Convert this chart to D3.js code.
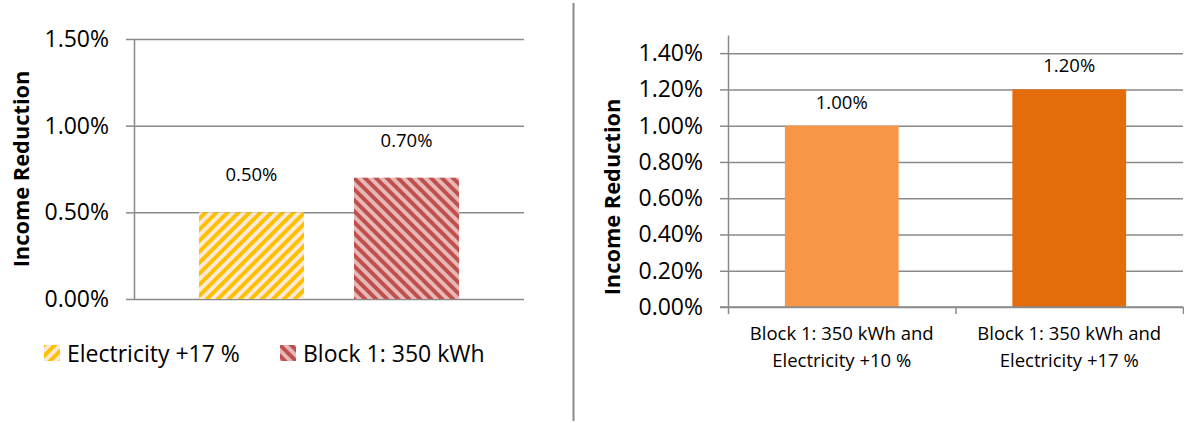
<!DOCTYPE html>
<html>
<head>
<meta charset="utf-8">
<script src="https://cdn.jsdelivr.net/npm/d3@7"></script>
<style>
  body { margin: 0; background: #fff; }
  text { font-family: "Open Sans", sans-serif; fill: #000; }
</style>
</head>
<body>
<svg id="chart" width="1184" height="423"></svg>
<script>
// left chart data (one category, two series)
var leftSeries = ["Electricity +17 %", "Block 1: 350 kWh"];
var leftValues = [0.005, 0.007];
var leftTicks = [0, 0.005, 0.01, 0.015];

// right chart data
var rightCategories = [["Block 1: 350 kWh and", "Electricity +10 %"], ["Block 1: 350 kWh and", "Electricity +17 %"]];
var rightValues = [0.010, 0.012];
var rightTicks = [0, 0.002, 0.004, 0.006, 0.008, 0.010, 0.012, 0.014];

var axisTitle = "Income Reduction";
var gridColor = "#8a8a8a";
var fmt = d3.format(".2%");

var svg = d3.select("#chart");

// hatch patterns
var defs = svg.append("defs");
function hatch(id, bg, fg, up) {
  var s = 11;
  var p = defs.append("pattern")
    .attr("id", id)
    .attr("patternUnits", "userSpaceOnUse")
    .attr("width", s).attr("height", s);
  p.append("rect").attr("width", s).attr("height", s).attr("fill", bg);
  var d = up
    ? "M-3,3 L3,-3 M0," + s + " L" + s + ",0 M" + (s - 3) + "," + (s + 3) + " L" + (s + 3) + "," + (s - 3)
    : "M-3," + (s - 3) + " L3," + (s + 3) + " M0,0 L" + s + "," + s + " M" + (s - 3) + ",-3 L" + (s + 3) + ",3";
  p.append("path").attr("d", d).attr("stroke", fg).attr("stroke-width", 4);
}
hatch("hatchYellow", "#fde9d9", "#ffc000", true);
hatch("hatchRed", "#e6b9b8", "#c0504d", false);
var fills = ["url(#hatchYellow)", "url(#hatchRed)"];

function styleY(g, gridLen) {
  g.select(".domain").attr("stroke", gridColor).attr("stroke-width", 1.5);
  g.selectAll(".tick line").attr("stroke", gridColor).attr("stroke-width", 1.5);
  g.selectAll(".tick text").attr("font-size", 23).attr("x", -25)
    .attr("font-family", "Open Sans").attr("fill", "#000");
  g.selectAll(".tick").append("line")
    .attr("x2", gridLen).attr("stroke", gridColor).attr("stroke-width", 1.5);
}

// ---------- left chart ----------
var left = svg.append("g");
var y1 = d3.scaleLinear().domain([0, 0.015]).range([299, 39]);
var x1 = d3.scaleBand().domain(leftSeries).range([134, 524])
  .paddingInner(0.3226).paddingOuter(0.419);

left.append("g")
  .attr("transform", "translate(134,0)")
  .call(d3.axisLeft(y1).tickValues(leftTicks).tickFormat(fmt)
    .tickSize(8).tickSizeOuter(0))
  .call(styleY, 390);

left.selectAll("rect.bar").data(leftValues).enter().append("rect")
  .attr("class", "bar")
  .attr("x", function(d, i) { return x1(leftSeries[i]); })
  .attr("width", x1.bandwidth())
  .attr("y", function(d) { return y1(d); })
  .attr("height", function(d) { return y1(0) - y1(d); })
  .attr("fill", function(d, i) { return fills[i]; });

left.selectAll("text.lbl").data(leftValues).enter().append("text")
  .attr("class", "lbl")
  .attr("x", function(d, i) { return x1(leftSeries[i]) + x1.bandwidth() / 2; })
  .attr("y", function(d) { return y1(d) - 31; })
  .attr("text-anchor", "middle")
  .attr("font-size", 18.5)
  .text(function(d) { return fmt(d); });

left.append("text")
  .attr("transform", "translate(29,169) rotate(-90)")
  .attr("text-anchor", "middle")
  .attr("font-size", 21.8).attr("font-weight", "bold")
  .text(axisTitle);

// legend
var legX = [44, 280];
var leg = left.selectAll("g.leg").data(leftSeries).enter().append("g")
  .attr("class", "leg")
  .attr("transform", function(d, i) { return "translate(" + legX[i] + ",345)"; });
leg.append("rect").attr("width", 16).attr("height", 16)
  .attr("fill", function(d, i) { return fills[i]; });
leg.append("text").attr("x", 23).attr("y", 16.5)
  .attr("font-size", 23).text(function(d) { return d; });

// divider
svg.append("line").attr("x1", 573.5).attr("x2", 573.5).attr("y1", 3).attr("y2", 421)
  .attr("stroke", gridColor).attr("stroke-width", 2);

// ---------- right chart ----------
var right = svg.append("g");
var y2 = d3.scaleLinear().domain([0, 0.015]).range([307, 35]);
var x2 = d3.scaleBand().domain([0, 1]).range([728, 1183]);

right.append("g")
  .attr("transform", "translate(728,0)")
  .call(d3.axisLeft(y2).tickValues(rightTicks).tickFormat(fmt)
    .tickSize(8).tickSizeOuter(0))
  .call(styleY, 455);

var barColors = ["#f79646", "#e46c0a"];
var bw = x2.bandwidth() / 2;
right.selectAll("rect.bar").data(rightValues).enter().append("rect")
  .attr("class", "bar")
  .attr("x", function(d, i) { return x2(i) + bw / 2; })
  .attr("width", bw)
  .attr("y", function(d) { return y2(d); })
  .attr("height", function(d) { return y2(0) - y2(d); })
  .attr("fill", function(d, i) { return barColors[i]; });

right.selectAll("text.lbl").data(rightValues).enter().append("text")
  .attr("class", "lbl")
  .attr("x", function(d, i) { return x2(i) + x2.bandwidth() / 2; })
  .attr("y", function(d) { return y2(d) - 17; })
  .attr("text-anchor", "middle")
  .attr("font-size", 18.5)
  .text(function(d) { return fmt(d); });

// bottom axis with category boundary ticks
right.append("g")
  .attr("transform", "translate(0,307)")
  .call(d3.axisBottom(d3.scaleLinear().domain([0, 2]).range([728, 1183]))
    .tickValues([0, 1, 2]).tickSize(7).tickFormat(""))
  .call(function(g) {
    g.select(".domain").remove();
    g.selectAll(".tick line").attr("stroke", gridColor).attr("stroke-width", 1.5);
  });
right.append("line").attr("x1", 720).attr("x2", 1183).attr("y1", 307).attr("y2", 307)
  .attr("stroke", gridColor).attr("stroke-width", 1.5);

var cat = right.selectAll("text.cat").data(rightCategories).enter().append("text")
  .attr("class", "cat")
  .attr("text-anchor", "middle")
  .attr("font-size", 18.5);
cat.selectAll("tspan").data(function(d, i) { return d.map(function(s) { return [s, i]; }); })
  .enter().append("tspan")
  .attr("x", function(d) { return x2(d[1]) + x2.bandwidth() / 2; })
  .attr("y", function(d, j) { return 340 + j * 27; })
  .text(function(d) { return d[0]; });

right.append("text")
  .attr("transform", "translate(620,197) rotate(-90)")
  .attr("text-anchor", "middle")
  .attr("font-size", 21.8).attr("font-weight", "bold")
  .text(axisTitle);
</script>
</body>
</html>
